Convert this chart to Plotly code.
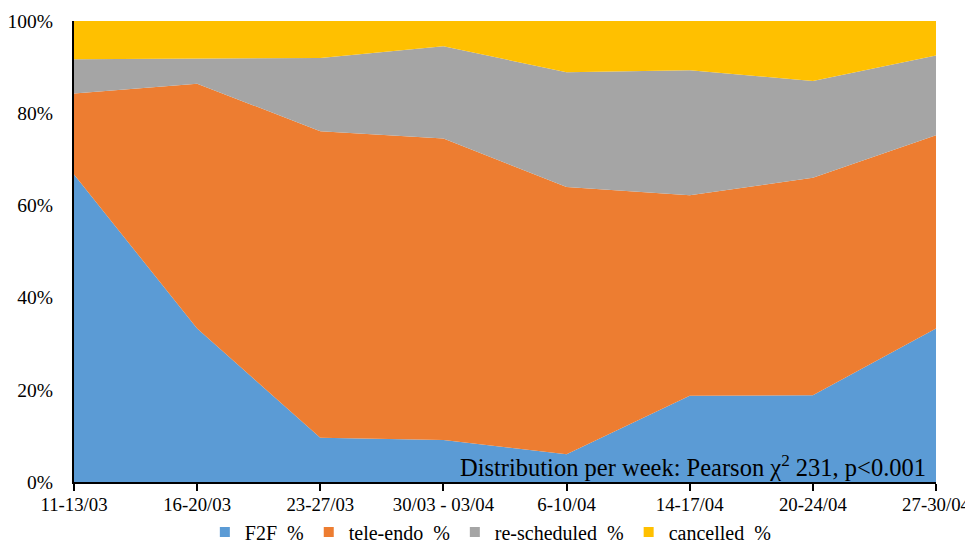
import plotly.graph_objects as go

weeks = ["11-13/03", "16-20/03", "23-27/03", "30/03 - 03/04", "6-10/04", "14-17/04", "20-24/04", "27-30/04"]
f2f = [66.7, 33.3, 9.6, 9.1, 6.0, 18.7, 18.8, 33.3]
tele_endo = [17.6, 53.1, 66.5, 65.4, 58.0, 43.5, 47.2, 41.9]
rescheduled = [7.4, 5.5, 15.9, 20.0, 24.9, 27.1, 21.0, 17.3]
cancelled = [8.3, 8.1, 8.0, 5.5, 11.1, 10.7, 13.0, 7.5]

series_names = ["F2F \u00a0%", "tele-endo \u00a0%", "re-scheduled \u00a0%", "cancelled \u00a0%"]
series_values = [f2f, tele_endo, rescheduled, cancelled]
colors = ["#5B9BD5", "#ED7D31", "#A5A5A5", "#FFC000"]

FONT = "Liberation Serif"

fig = go.Figure()
for name, vals, col in zip(series_names, series_values, colors):
    fig.add_trace(go.Scatter(
        x=weeks, y=vals, name=name, mode="lines",
        stackgroup="one", line=dict(width=0, color=col),
        fillcolor=col, showlegend=False,
    ))
# legend entries with square swatches
for name, col in zip(series_names, colors):
    fig.add_trace(go.Scatter(
        x=[None], y=[None], name=name, mode="markers",
        marker=dict(symbol="square", size=10, color=col),
        showlegend=True,
    ))

# page body has an 8px margin, so figure is sized to fit the 973x545 window
fig.update_layout(
    width=965, height=537,
    margin=dict(l=66, r=37, t=13, b=63),
    paper_bgcolor="white", plot_bgcolor="white",
    font=dict(family=FONT, size=19, color="black"),
    showlegend=True,
    legend=dict(orientation="h", xref="paper", x=0.483, xanchor="center",
                yref="container", y=0.024, yanchor="middle",
                font=dict(size=20, family=FONT), traceorder="normal", itemwidth=30,
                bgcolor="rgba(0,0,0,0)"),
    xaxis=dict(type="category", range=[0, 7], showline=True, linecolor="black", linewidth=2,
               ticks="outside", ticklen=7, tickcolor="black", tickwidth=2,
               ticklabelstandoff=-3, automargin=False,
               showgrid=False, zeroline=False, tickfont=dict(size=18.8, family=FONT)),
    yaxis=dict(range=[0, 100], dtick=20, ticksuffix="%", showline=True, linecolor="black",
               linewidth=2, showgrid=False, zeroline=False, ticks="",
               ticklabelstandoff=15, automargin=False, tickfont=dict(size=19.5, family=FONT)),
    annotations=[dict(
        text="Distribution per week: Pearson \u03c7<sup>2</sup> 231, p&lt;0.001",
        xref="paper", yref="paper", x=0.9905, y=0.035, xanchor="right", yanchor="middle",
        showarrow=False, font=dict(size=24.5, color="black", family=FONT),
    )],
)

fig.write_html("out.html")
